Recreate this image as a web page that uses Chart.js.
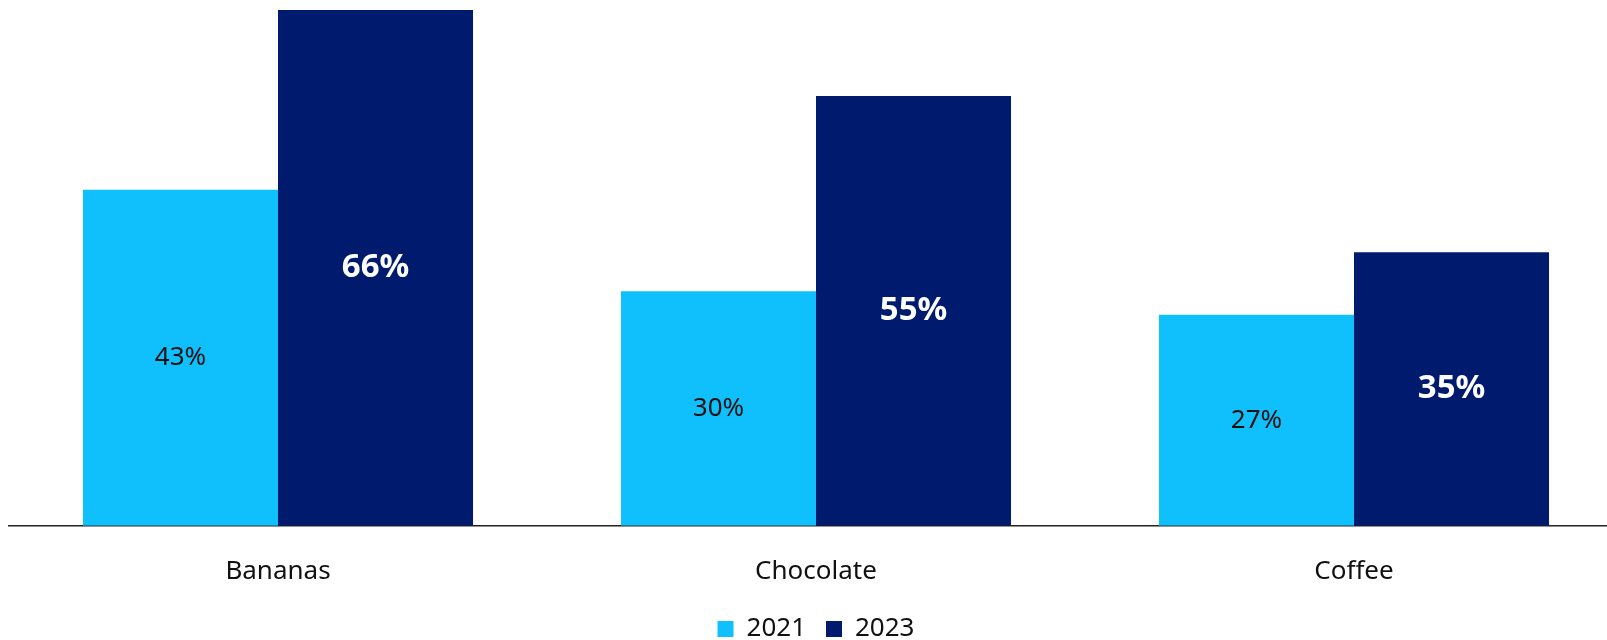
<!DOCTYPE html>
<html lang="en">
<head>
  <meta charset="UTF-8">
  <title>Bananas, Chocolate, Coffee</title>
  <script src="https://cdn.jsdelivr.net/npm/chart.js"></script>
  <style>
    html, body {
      margin: 0;
      padding: 0;
      background: #ffffff;
      overflow: hidden;
    }

    .wrap {
      position: relative;
      width: 1632px;
      height: 640px;
    }
  </style>
</head>
<body>

  <div class="wrap">
    <canvas id="chart"></canvas>
  </div>

  <script>
    // data
    const categories = ["Bananas", "Chocolate", "Coffee"];
    const years = ["2021", "2023"];
    const values2021 = [43, 30, 27];
    const values2023 = [66, 55, 35];

    const lightBlue = "#10c0fc";
    const darkBlue = "#001a6e";
    const fontName = "'Noto Sans', sans-serif";

    // percent labels in the middle of each bar
    const barLabels = {
      id: "barLabels",
      afterDatasetsDraw(chart) {
        const ctx = chart.ctx;
        chart.data.datasets.forEach((ds, i) => {
          const meta = chart.getDatasetMeta(i);
          meta.data.forEach((bar, j) => {
            ctx.save();
            ctx.textAlign = "center";
            ctx.textBaseline = "middle";
            if (i === 0) {
              ctx.fillStyle = "#111111";
              ctx.font = "26px " + fontName;
            } else {
              ctx.fillStyle = "#ffffff";
              ctx.font = "bold 33px " + fontName;
            }
            ctx.fillText(ds.data[j] + "%", bar.x, (bar.y + bar.base) / 2);
            ctx.restore();
          });
        });
      }
    };

    new Chart(document.getElementById("chart"), {
      type: "bar",
      data: {
        labels: categories,
        datasets: [
          { label: years[0], data: values2021, backgroundColor: lightBlue },
          { label: years[1], data: values2023, backgroundColor: darkBlue }
        ]
      },
      options: {
        responsive: true,
        maintainAspectRatio: false,
        animation: false,
        layout: { padding: { top: 10, left: 9, right: 9, bottom: -12 } },
        datasets: {
          bar: { categoryPercentage: 0.725, barPercentage: 1.0 }
        },
        scales: {
          x: {
            grid: { display: false, drawTicks: false },
            border: { display: true, color: "#222222", width: 1.5 },
            ticks: {
              color: "#111111",
              padding: 30,
              font: { family: fontName, size: 26 }
            },
            afterFit(scale) {
              scale.height -= 21;
            }
          },
          y: {
            display: false,
            min: 0,
            max: 66
          }
        },
        plugins: {
          legend: {
            position: "bottom",
            labels: {
              color: "#111111",
              boxWidth: 16,
              boxHeight: 16,
              padding: 20,
              font: { family: fontName, size: 26 }
            }
          },
          tooltip: { enabled: false }
        }
      },
      plugins: [barLabels]
    });
  </script>
</body>
</html>
